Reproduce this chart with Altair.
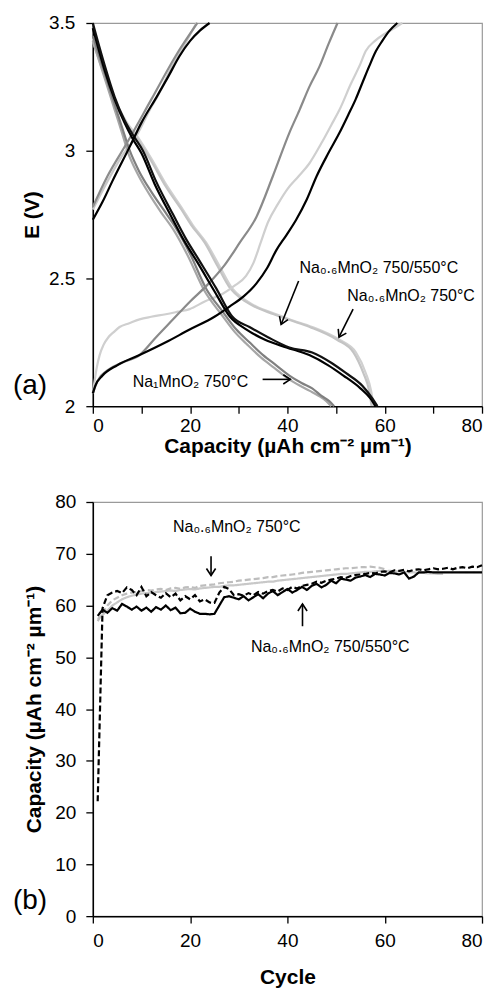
import altair as alt
import pandas as pd

FONT = "Liberation Sans"

# ---------------- panel (a): voltage profiles ----------------
# Na1MnO2 750 C (mid grey)
na1_fc_cap = [0, 3, 7, 12, 17, 21.5]
na1_fc_v = [2.78, 2.90, 3.03, 3.20, 3.37, 3.50]
na1_d1_cap = [0, 1, 2.5, 4.5, 6.2, 7.6, 9.5, 12, 14.5, 17, 19.9, 23.3, 26.7, 29.5, 32.2, 35, 37.7, 40.4, 43, 45.1, 47, 48.6, 49.6]
na1_d1_v = [3.45, 3.39, 3.30, 3.18, 3.08, 3.00, 2.92, 2.84, 2.77, 2.70, 2.60, 2.46, 2.37, 2.30, 2.25, 2.20, 2.16, 2.12, 2.09, 2.07, 2.04, 2.02, 2.0]
na1_d2_cap = [0, 1, 2.5, 4.5, 6.0, 7.3, 9.2, 11.6, 14.0, 16.6, 19.5, 23.0, 26.4, 29.2, 31.8, 34.6, 37.3, 40.0, 42.6, 44.6, 46.5, 48.0, 49.0]
na1_d2_v = [3.43, 3.37, 3.28, 3.16, 3.07, 2.99, 2.91, 2.83, 2.76, 2.69, 2.59, 2.45, 2.36, 2.29, 2.24, 2.19, 2.15, 2.11, 2.08, 2.06, 2.04, 2.02, 2.0]
na1_c_cap = [0, 1, 3, 6, 9.6, 13, 16.5, 20, 23.3, 27, 30.2, 33.6, 37, 40.4, 42.5, 44.5, 46.6, 48.5, 50.3]
na1_c_v = [2.05, 2.10, 2.14, 2.17, 2.20, 2.27, 2.34, 2.41, 2.47, 2.55, 2.64, 2.74, 2.90, 3.07, 3.16, 3.25, 3.33, 3.42, 3.50]

# Na0.6MnO2 750/550 C (black)
bl_fc_cap = [0, 2, 4, 7.7, 10, 13.1, 15.5, 17.8, 20, 22, 24]
bl_fc_v = [2.73, 2.80, 2.88, 3.02, 3.11, 3.21, 3.29, 3.37, 3.43, 3.47, 3.50]
bl_d1_cap = [0, 1, 2.5, 4.5, 6.5, 8.3, 10.3, 13, 16.5, 19, 21.9, 25.4, 28.7, 32.2, 36, 40.4, 45.1, 49, 52, 55.4, 57.5, 58.5]
bl_d1_v = [3.50, 3.43, 3.33, 3.21, 3.12, 3.06, 3.00, 2.88, 2.75, 2.66, 2.57, 2.46, 2.35, 2.31, 2.27, 2.23, 2.21, 2.17, 2.13, 2.08, 2.03, 2.0]
bl_d2_cap = [0, 1, 2.5, 4.5, 6.5, 8.1, 10.0, 12.7, 16.2, 18.7, 21.6, 25.0, 28.2, 31.6, 35.4, 39.8, 44.5, 48.4, 51.5, 55.0, 57.1, 58.1]
bl_d2_v = [3.48, 3.41, 3.31, 3.20, 3.11, 3.05, 2.99, 2.87, 2.74, 2.65, 2.56, 2.45, 2.35, 2.30, 2.26, 2.23, 2.20, 2.16, 2.12, 2.07, 2.03, 2.0]
bl_c_cap = [0, 0.5, 2, 5, 9.6, 15, 19.9, 25, 28.1, 31, 33.6, 35.8, 37.7, 39.8, 41.8, 44, 46, 48.4, 50.7, 52.5, 54, 55.5, 56.8, 58.2, 59.5, 61, 62.6]
bl_c_v = [2.05, 2.08, 2.12, 2.16, 2.20, 2.25, 2.30, 2.35, 2.39, 2.43, 2.48, 2.54, 2.61, 2.67, 2.73, 2.81, 2.90, 2.99, 3.07, 3.14, 3.20, 3.27, 3.33, 3.39, 3.43, 3.47, 3.50]

# Na0.6MnO2 750 C (light grey)
lg_fc_cap = [0, 3, 6, 9, 11.7, 13.5, 16, 19, 21.3]
lg_fc_v = [2.77, 2.88, 2.98, 3.06, 3.16, 3.22, 3.32, 3.42, 3.50]
lg_d1_cap = [0, 1, 2.5, 4.5, 7, 9, 12, 15, 18.5, 20.5, 23.3, 26, 28.7, 31, 33.6, 37.7, 40.4, 45.1, 50.7, 54.1, 56.1, 57.2, 57.7]
lg_d1_v = [3.44, 3.38, 3.30, 3.20, 3.11, 3.06, 2.97, 2.87, 2.77, 2.71, 2.64, 2.55, 2.46, 2.42, 2.39, 2.36, 2.34, 2.31, 2.26, 2.21, 2.13, 2.06, 2.0]
lg_d2_cap = [0, 1, 2.5, 4.5, 7, 9, 12, 15, 18.2, 20.2, 23.0, 25.6, 28.3, 30.6, 33.2, 37.2, 40.0, 44.6, 50.2, 53.6, 55.6, 56.8, 57.3]
lg_d2_v = [3.43, 3.37, 3.29, 3.19, 3.10, 3.05, 2.96, 2.86, 2.77, 2.71, 2.64, 2.55, 2.46, 2.42, 2.39, 2.36, 2.34, 2.31, 2.26, 2.21, 2.13, 2.06, 2.0]
lg_c_cap = [0, 0.3, 0.8, 1.4, 2.2, 3.2, 4.3, 5.5, 7.5, 9.6, 12, 15, 17.5, 19.9, 23, 26.7, 29, 31.5, 33, 34.5, 36, 38, 40, 42.3, 44.5, 47, 49, 50.7, 53, 55, 56.1, 58, 60.2, 62, 63.6]
lg_c_v = [2.05, 2.09, 2.15, 2.20, 2.24, 2.27, 2.29, 2.31, 2.325, 2.34, 2.35, 2.36, 2.37, 2.38, 2.41, 2.44, 2.47, 2.51, 2.56, 2.64, 2.72, 2.79, 2.85, 2.90, 2.95, 3.03, 3.10, 3.16, 3.26, 3.34, 3.39, 3.43, 3.46, 3.48, 3.50]

curves_a = [
    (lg_d1_cap, lg_d1_v, "#d0d0d0"),
    (lg_d2_cap, lg_d2_v, "#c4c4c4"),
    (lg_c_cap, lg_c_v, "#cfcfcf"),
    (lg_fc_cap, lg_fc_v, "#c8c8c8"),
    (na1_d2_cap, na1_d2_v, "#a6a6a6"),
    (na1_d1_cap, na1_d1_v, "#808080"),
    (na1_c_cap, na1_c_v, "#8a8a8a"),
    (na1_fc_cap, na1_fc_v, "#8c8c8c"),
    (bl_d2_cap, bl_d2_v, "#000000"),
    (bl_d1_cap, bl_d1_v, "#111111"),
    (bl_c_cap, bl_c_v, "#000000"),
    (bl_fc_cap, bl_fc_v, "#000000"),
]

ann_a_text = ["Na₀.₆MnO₂ 750/550°C", "Na₀.₆MnO₂ 750°C", "Na₁MnO₂ 750°C"]
ann_a_cap = [42.5, 52.3, 8.2]
ann_a_v = [2.54, 2.43, 2.094]
arr_a_x1 = [42.3, 53.5, 34.9]
arr_a_y1 = [2.49, 2.38, 2.105]
arr_a_x2 = [38.7, 50.6, 40.6]
arr_a_y2 = [2.32, 2.27, 2.105]
arr_a_ang = [112, 118, 0]
lab_a = ["(a)"]
lab_a_cap = [-12.9]
lab_a_v = [2.08]

# ---------------- panel (b): cycling ----------------
bs_cycle = list(range(1, 81))
bs_cap = [58.0, 59.2, 58.6, 59.5, 59.0, 60.3, 59.8, 59.2, 59.8, 59.0,
          59.6, 58.8, 59.7, 59.2, 60.0, 59.1, 59.6, 58.5, 58.6, 59.4,
          58.8, 58.4, 58.4, 58.3, 58.4, 60.0, 61.6, 61.8, 61.5, 61.2,
          61.8, 61.0, 61.6, 62.2, 61.4, 62.3, 62.8, 62.0, 62.6, 63.2,
          62.5, 63.0, 63.6, 63.0, 63.8, 64.2, 63.5, 64.0, 64.8, 64.3,
          65.2, 65.0, 64.8, 65.4, 65.6, 65.9, 65.5, 66.1, 66.0, 65.8,
          66.3, 66.2, 66.0, 66.4, 65.2, 65.6, 66.4, 66.4, 66.5, 66.4,
          66.4, 66.4, 66.4, 66.4, 66.4, 66.4, 66.4, 66.4, 66.4, 66.4]
bd_cycle = list(range(1, 81))
bd_cap = [22.2, 59.5, 62.0, 62.5, 62.8, 62.4, 63.5, 63.0, 62.0, 63.6,
          61.8, 62.6, 62.0, 61.5, 62.4, 61.6, 62.3, 61.0, 61.8, 61.2,
          62.0, 60.8, 61.2, 60.6, 60.5, 62.5, 63.6, 63.2, 62.0, 62.2,
          61.9, 62.4, 62.0, 62.6, 62.3, 62.8, 63.0, 62.7, 63.3, 63.0,
          63.6, 63.3, 63.8, 64.0, 64.2, 64.6, 64.4, 64.8, 65.0, 65.2,
          65.5, 65.3, 65.7, 65.9, 66.0, 66.1, 66.3, 66.2, 66.5, 66.6,
          66.4, 66.8, 66.7, 66.9, 66.6, 66.9, 67.0, 66.8, 67.0, 67.2,
          67.0, 67.1, 67.3, 67.0, 67.3, 67.4, 67.2, 67.5, 67.4, 67.8]
gs_cycle = list(range(1, 73))
gs_cap = [57.4, 58.2, 59.0, 60.0, 60.6, 61.2, 61.6, 61.9, 62.1, 62.3,
          62.4, 62.5, 62.6, 62.7, 62.8, 62.9, 62.8, 63.0, 63.1, 63.2,
          63.1, 63.3, 63.4, 63.5, 63.6, 63.6, 63.8, 63.9, 63.9, 64.0,
          64.1, 64.2, 64.3, 64.4, 64.5, 64.6, 64.6, 64.8, 64.9, 65.0,
          65.1, 65.2, 65.3, 65.4, 65.5, 65.6, 65.7, 65.8, 65.9, 66.0,
          66.1, 66.1, 66.2, 66.3, 66.4, 66.5, 66.5, 66.6, 66.7, 66.6,
          66.7, 66.6, 66.6, 66.5, 66.4, 66.4, 66.3, 66.3, 66.2, 66.2,
          66.1, 66.1]
gd_cycle = list(range(1, 61))
gd_cap = [57.0, 58.5, 60.0, 61.0, 61.5, 62.0, 62.3, 62.5, 62.6, 62.8,
          63.0, 62.9, 63.1, 63.2, 63.0, 63.3, 63.4, 63.2, 63.5, 63.6,
          63.4, 63.8, 63.9, 64.0, 64.1, 64.3, 64.4, 64.5, 64.6, 64.8,
          64.9, 65.0, 65.1, 65.2, 65.3, 65.5, 65.5, 65.7, 65.8, 65.9,
          66.0, 66.1, 66.3, 66.4, 66.5, 66.6, 66.7, 66.8, 66.9, 67.0,
          67.1, 67.2, 67.2, 67.3, 67.4, 67.4, 67.5, 67.4, 67.3, 67.0]

series_b = [
    (gs_cycle, gs_cap, "#c8c8c8", [1, 0]),
    (gd_cycle, gd_cap, "#bdbdbd", [6, 3]),
    (bs_cycle, bs_cap, "#000000", [1, 0]),
    (bd_cycle, bd_cap, "#000000", [6, 3]),
]

ann_b_text = ["Na₀.₆MnO₂ 750°C", "Na₀.₆MnO₂ 750/550°C"]
ann_b_cyc = [29.6, 48.8]
ann_b_cap = [75.2, 52.0]
arr_b_x1 = [24.3, 43.1]
arr_b_y1 = [69.5, 56.0]
arr_b_x2 = [24.3, 43.1]
arr_b_y2 = [65.8, 60.3]
arr_b_ang = [90, 270]
lab_b = ["(b)"]
lab_b_cyc = [-12.9]
lab_b_cap = [3.0]

TITLE_CAP = "Capacity (µAh cm⁻² µm⁻¹)"
CHEVRON = "M-1,-0.65L0,0L-1,0.65"


def arrows(x1, y1, x2, y2, ang, xs, ys):
    df = pd.DataFrame({"x1": x1, "y1": y1, "x2": x2, "y2": y2, "ang": ang})
    shaft = alt.Chart(df).mark_rule(color="black", strokeWidth=1.6).encode(
        x=alt.X("x1:Q", scale=xs), y=alt.Y("y1:Q", scale=ys), x2="x2:Q", y2="y2:Q")
    head = alt.Chart(df).mark_point(shape=CHEVRON, filled=False, color="black",
                                    strokeWidth=1.6, size=200, opacity=1).encode(
        x=alt.X("x2:Q", scale=xs), y=alt.Y("y2:Q", scale=ys),
        angle=alt.Angle("ang:Q", scale=None))
    return [shaft, head]


# ---- build panel (a)
xs_a = alt.Scale(domain=[0, 80], nice=False)
ys_a = alt.Scale(domain=[2, 3.5], nice=False, zero=False)
layers_a = []
for k, (cx, cy, col) in enumerate(curves_a):
    df = pd.DataFrame({"cap": cx, "v": cy, "i": list(range(len(cx)))})
    enc = dict(x=alt.X("cap:Q", scale=xs_a), y=alt.Y("v:Q", scale=ys_a), order="i:Q")
    if k == 0:
        enc["x"] = alt.X("cap:Q", scale=xs_a, title=TITLE_CAP,
                         axis=alt.Axis(values=list(range(0, 81, 10)), labelPadding=3,
                                       titlePadding=0,
                                       labelExpr="datum.value % 20 == 0 ? datum.label : ''"))
        enc["y"] = alt.Y("v:Q", scale=ys_a, title="E (V)",
                         axis=alt.Axis(values=[2, 2.5, 3, 3.5], format="~g",
                                       labelPadding=11, titlePadding=6))
    layers_a.append(alt.Chart(df).mark_line(color=col, strokeWidth=2.2,
                                            interpolate="monotone").encode(**enc))

df_ann_a = pd.DataFrame({"t": ann_a_text, "x": ann_a_cap, "y": ann_a_v})
layers_a.append(alt.Chart(df_ann_a).mark_text(align="left", baseline="middle", font=FONT,
                                              fontSize=16, color="black").encode(
    x=alt.X("x:Q", scale=xs_a), y=alt.Y("y:Q", scale=ys_a), text="t:N"))
df_lab_a = pd.DataFrame({"t": lab_a, "x": lab_a_cap, "y": lab_a_v})
layers_a.append(alt.Chart(df_lab_a).mark_text(align="center", baseline="middle", font=FONT,
                                              fontSize=28, color="black").encode(
    x=alt.X("x:Q", scale=xs_a), y=alt.Y("y:Q", scale=ys_a), text="t:N"))
layers_a += arrows(arr_a_x1, arr_a_y1, arr_a_x2, arr_a_y2, arr_a_ang, xs_a, ys_a)

panel_a = alt.layer(*layers_a).properties(width=390, height=384)

# ---- build panel (b)
xs_b = alt.Scale(domain=[0, 80], nice=False)
ys_b = alt.Scale(domain=[0, 80], nice=False)
layers_b = []
for k, (cx, cy, col, dash) in enumerate(series_b):
    df = pd.DataFrame({"cyc": cx, "cap": cy})
    enc = dict(x=alt.X("cyc:Q", scale=xs_b), y=alt.Y("cap:Q", scale=ys_b))
    if k == 0:
        enc["x"] = alt.X("cyc:Q", scale=xs_b, title="Cycle",
                         axis=alt.Axis(values=list(range(0, 81, 20)), labelPadding=8,
                                       titlePadding=17))
        enc["y"] = alt.Y("cap:Q", scale=ys_b, title=TITLE_CAP,
                         axis=alt.Axis(values=list(range(0, 81, 10)), labelPadding=10,
                                       titlePadding=10))
    layers_b.append(alt.Chart(df).mark_line(color=col, strokeWidth=2.2, strokeDash=dash).encode(**enc))

df_ann_b = pd.DataFrame({"t": ann_b_text, "x": ann_b_cyc, "y": ann_b_cap})
layers_b.append(alt.Chart(df_ann_b).mark_text(align="center", baseline="middle", font=FONT,
                                              fontSize=16, color="black").encode(
    x=alt.X("x:Q", scale=xs_b), y=alt.Y("y:Q", scale=ys_b), text="t:N"))
df_lab_b = pd.DataFrame({"t": lab_b, "x": lab_b_cyc, "y": lab_b_cap})
layers_b.append(alt.Chart(df_lab_b).mark_text(align="center", baseline="middle", font=FONT,
                                              fontSize=28, color="black").encode(
    x=alt.X("x:Q", scale=xs_b), y=alt.Y("y:Q", scale=ys_b), text="t:N"))
layers_b += arrows(arr_b_x1, arr_b_y1, arr_b_x2, arr_b_y2, arr_b_ang, xs_b, ys_b)

panel_b = alt.layer(*layers_b).properties(width=390, height=415)

chart = alt.vconcat(panel_a, panel_b, spacing=35).configure(
    background="white", padding={"left": 4, "top": 4, "right": 1, "bottom": 2}
).configure_view(
    stroke="#9a9a9a", strokeWidth=1.2
).configure_axis(
    grid=False, domainColor="black", domainWidth=1.5, tickColor="black", tickWidth=1.3,
    tickSize=7, labelFont=FONT, labelFontSize=19, labelColor="black",
    titleFont=FONT, titleFontSize=21, titleFontWeight="bold", titleColor="black"
)

chart.save("out.html", embed_options={"renderer": "svg", "actions": False})
